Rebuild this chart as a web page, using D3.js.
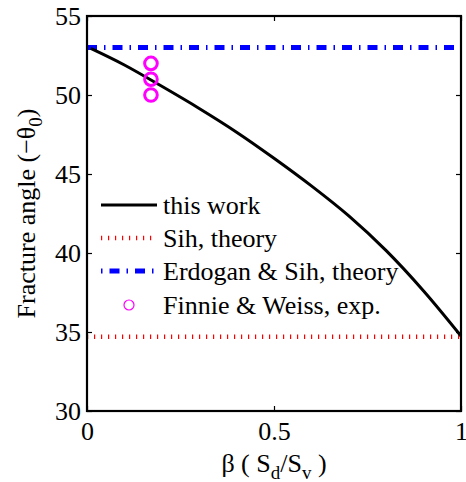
<!DOCTYPE html>
<html>
<head>
<meta charset="utf-8">
<script src="https://cdn.jsdelivr.net/npm/d3@7"></script>
<style>
body { margin: 0; background: #fff; }
text { font-family: "Liberation Serif", "Times New Roman", serif; fill: #000; }
</style>
</head>
<body>
<script>
// chart data
var beta = [0.01, 0.1, 0.2, 0.3, 0.4, 0.5, 0.6, 0.7, 0.8, 0.9, 1.0];
var thisWork = [52.95, 51.9, 50.55, 49.15, 47.65, 46.0, 44.25, 42.35, 40.15, 37.6, 34.75];
var sihTheory = 34.7;
var erdoganTheory = 53.0;
var finnieBeta = [0.171, 0.171, 0.171];
var finnieAngle = [52, 51, 50];
var xTicks = [0, 0.5, 1];
var yTicks = [30, 35, 40, 45, 50, 55];
var legendLabels = ["this work", "Sih, theory", "Erdogan & Sih, theory", "Finnie & Weiss, exp."];

var W = 466, H = 482;
var pLeft = 87, pTop = 16, pRight = 461, pBottom = 411;

var svg = d3.select("body").append("svg").attr("width", W).attr("height", H);

var x = d3.scaleLinear().domain([0, 1]).range([pLeft, pRight]);
var y = d3.scaleLinear().domain([30, 55]).range([pBottom, pTop]);

// axes, ticks pointing inward
var fmt = function(d) { return d === 0.5 ? "0.5" : String(d); };

var gB = svg.append("g").attr("transform", "translate(0," + pBottom + ")")
          .call(d3.axisBottom(x).tickValues(xTicks).tickFormat(fmt).tickSizeInner(-5).tickSizeOuter(0).tickPadding(11));
var gT = svg.append("g").attr("transform", "translate(0," + pTop + ")")
          .call(d3.axisTop(x).tickValues(xTicks).tickFormat("").tickSizeInner(-5).tickSizeOuter(0));
var gL = svg.append("g").attr("transform", "translate(" + pLeft + ",0)")
          .call(d3.axisLeft(y).tickValues(yTicks).tickSizeInner(-5).tickSizeOuter(0).tickPadding(6));
var gR = svg.append("g").attr("transform", "translate(" + pRight + ",0)")
          .call(d3.axisRight(y).tickValues(yTicks).tickFormat("").tickSizeInner(-5).tickSizeOuter(0));

[gB, gT, gL, gR].forEach(function(g) {
  g.select(".domain").remove();
  g.selectAll(".tick line").attr("stroke", "#000").attr("stroke-width", 1.2);
  g.selectAll(".tick text").attr("font-size", 26).attr("font-family", "Liberation Serif").attr("fill", "#000");
});
gL.selectAll(".tick text").attr("dy", "0.33em");

// data lines
var line = d3.line().x(function(d) { return x(d[0]); }).y(function(d) { return y(d[1]); })
          .curve(d3.curveCatmullRom);

svg.append("path")
          .attr("d", d3.line()([[x(0), y(sihTheory)], [x(1), y(sihTheory)]]))
          .attr("stroke", "#ff0000").attr("stroke-width", 4.5).attr("fill", "none")
          .attr("stroke-dasharray", "1.2,5.8");

svg.append("path")
          .attr("d", d3.line()([[x(0), y(erdoganTheory)], [x(1), y(erdoganTheory)]]))
          .attr("stroke", "#0000ff").attr("stroke-width", 5).attr("fill", "none")
          .attr("stroke-dasharray", "10,7,1.5,7");

svg.append("path")
          .datum(d3.zip(beta, thisWork))
          .attr("d", line)
          .attr("stroke", "#000").attr("stroke-width", 3).attr("fill", "none");

svg.append("g").selectAll("circle")
          .data(d3.zip(finnieBeta, finnieAngle))
          .join("circle")
          .attr("cx", function(d) { return x(d[0]); })
          .attr("cy", function(d) { return y(d[1]); })
          .attr("r", 6.3)
          .attr("fill", "none").attr("stroke", "#ff00ff").attr("stroke-width", 3);

// frame
svg.append("rect")
          .attr("x", pLeft).attr("y", pTop)
          .attr("width", pRight - pLeft).attr("height", pBottom - pTop)
          .attr("fill", "none").attr("stroke", "#000").attr("stroke-width", 2.2);

// legend
var lg = svg.append("g");
var rowY = [205, 238, 271, 305];
var x0 = 101, x1 = 157, tx = 163;

lg.append("line").attr("x1", x0).attr("x2", x1).attr("y1", rowY[0]).attr("y2", rowY[0])
          .attr("stroke", "#000").attr("stroke-width", 3);
lg.append("line").attr("x1", x0).attr("x2", x1).attr("y1", rowY[1]).attr("y2", rowY[1])
          .attr("stroke", "#ff0000").attr("stroke-width", 4.5).attr("stroke-dasharray", "1.2,5.8");
lg.append("line").attr("x1", x0).attr("x2", x1).attr("y1", rowY[2]).attr("y2", rowY[2])
          .attr("stroke", "#0000ff").attr("stroke-width", 5).attr("stroke-dasharray", "1.5,7,10,7");
lg.append("circle").attr("cx", (x0 + x1) / 2).attr("cy", rowY[3]).attr("r", 5)
          .attr("fill", "none").attr("stroke", "#ff00ff").attr("stroke-width", 1.2);

lg.selectAll("text")
          .data(legendLabels)
          .join("text")
          .attr("x", tx)
          .attr("y", function(d, i) { return rowY[i]; })
          .attr("dy", "0.33em")
          .attr("font-size", 26)
          .text(function(d) { return d; });

// axis labels
var xl = svg.append("text")
          .attr("x", (pLeft + pRight) / 2).attr("y", 472)
          .attr("text-anchor", "middle").attr("font-size", 26);
xl.append("tspan").text("β ( S");
xl.append("tspan").attr("font-size", 19).attr("dy", 7).text("d");
xl.append("tspan").attr("dy", -7).text("/S");
xl.append("tspan").attr("font-size", 19).attr("dy", 7).text("v");
xl.append("tspan").attr("dy", -7).text(" )");

var yl = svg.append("text")
          .attr("transform", "translate(35," + ((pTop + pBottom) / 2) + ") rotate(-90)")
          .attr("text-anchor", "middle").attr("font-size", 26);
yl.append("tspan").text("Fracture angle (−θ");
yl.append("tspan").attr("font-size", 19).attr("dy", 7).text("0");
yl.append("tspan").attr("dy", -7).text(")");
</script>
</body>
</html>
